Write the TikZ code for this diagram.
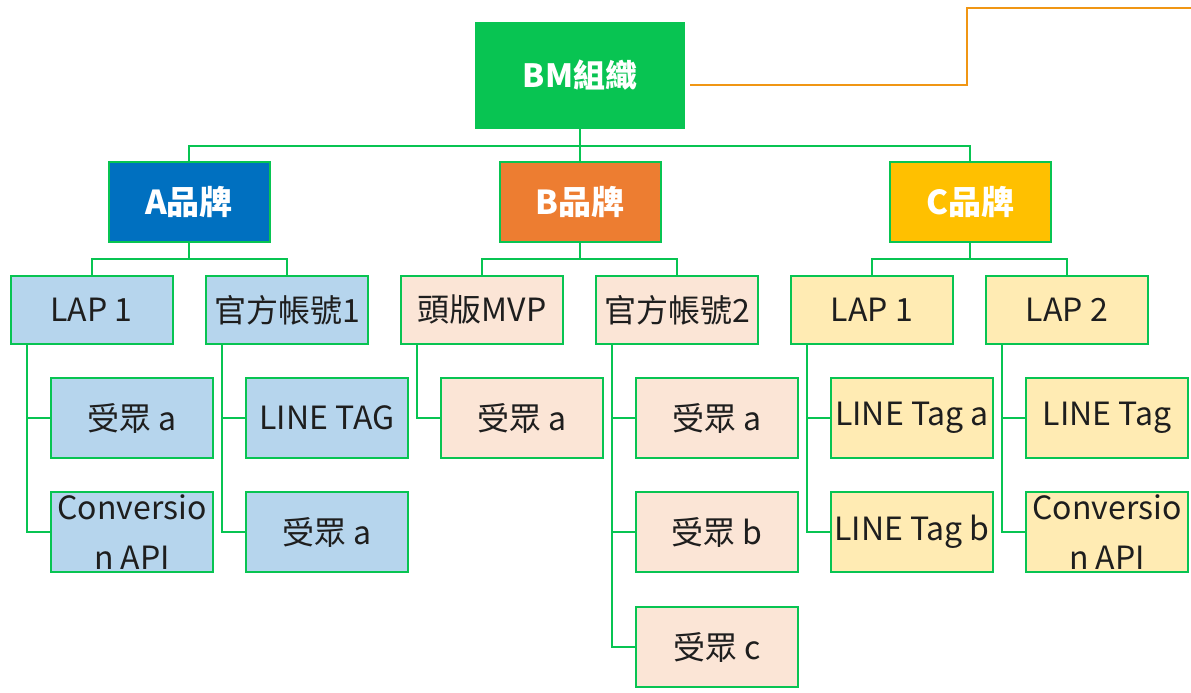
\documentclass[tikz,border=0pt]{standalone}
\usepackage{fontspec}
\setmainfont{Noto Sans CJK TC}
\usetikzlibrary{calc}

\definecolor{orggreen}{RGB}{8,196,82}
\definecolor{brandA}{RGB}{0,112,192}
\definecolor{brandB}{RGB}{237,125,49}
\definecolor{brandC}{RGB}{255,192,0}
\definecolor{paleA}{RGB}{182,213,237}
\definecolor{paleB}{RGB}{251,229,214}
\definecolor{paleC}{RGB}{255,235,179}
\definecolor{feedorange}{RGB}{240,150,20}
\definecolor{inkgray}{RGB}{30,30,30}

\begin{document}
\begin{tikzpicture}[x=1pt,y=-1pt,
	link/.style={draw=orggreen, line width=2pt},
	feedlink/.style={draw=feedorange, line width=2pt},
	orgbox/.style={draw=orggreen, line width=2pt, inner sep=0pt, align=center},
	topbox/.style={orgbox, fill=orggreen, minimum width=208pt, minimum height=105pt,
		text=white, font=\fontsize{32}{38}\selectfont\bfseries},
	brandbox/.style={orgbox, minimum width=161pt, minimum height=80pt,
		text=white, font=\fontsize{33}{38}\selectfont\bfseries},
	accbox/.style={orgbox, minimum width=162pt, minimum height=68pt,
		text=inkgray, font=\fontsize{32}{50}\selectfont},
	leafbox/.style={orgbox, minimum width=162pt, minimum height=80pt,
		text=inkgray, font=\fontsize{32}{50}\selectfont},
]

% frame %{{{2

	\useasboundingbox (0,0) rectangle (1191,693);

% top %{{{2

	\node[topbox] (BM) at (580,75.5) {BM組織};

% brands %{{{2

	\node[brandbox, fill=brandA] (A) at (189,202) {A品牌};
	\node[brandbox, fill=brandB] (B) at (580,202) {B品牌};
	\node[brandbox, fill=brandC] (C) at (970,202) {C品牌};

% accounts %{{{2

	\node[accbox, fill=paleA] (A1) at (91.5,310) {LAP 1};
	\node[accbox, fill=paleA] (A2) at (287,310) {官方帳號1};
	\node[accbox, fill=paleB] (B1) at (482,310) {頭版MVP};
	\node[accbox, fill=paleB] (B2) at (677,310) {官方帳號2};
	\node[accbox, fill=paleC] (C1) at (872,310) {LAP 1};
	\node[accbox, fill=paleC] (C2) at (1067,310) {LAP 2};

% leaves %{{{2

	\node[leafbox, fill=paleA] (A1a) at (132,418) {受眾 a};
	\node[leafbox, fill=paleA] (A1b) at (132,532) {Conversio\\n API};
	\node[leafbox, fill=paleA] (A2a) at (327,418) {LINE TAG};
	\node[leafbox, fill=paleA] (A2b) at (327,532) {受眾 a};

	\node[leafbox, fill=paleB] (B1a) at (522,418) {受眾 a};
	\node[leafbox, fill=paleB] (B2a) at (717,418) {受眾 a};
	\node[leafbox, fill=paleB] (B2b) at (717,532) {受眾 b};
	\node[leafbox, fill=paleB] (B2c) at (717,647) {受眾 c};

	\node[leafbox, fill=paleC] (C1a) at (912,418) {LINE Tag a};
	\node[leafbox, fill=paleC] (C1b) at (912,532) {LINE Tag b};
	\node[leafbox, fill=paleC] (C2a) at (1107,418) {LINE Tag};
	\node[leafbox, fill=paleC] (C2b) at (1107,532) {Conversio\\n API};

% tree links %{{{2

	\foreach \p/\c in {BM/A,BM/B,BM/C} {
		\draw[link] (\p.south) -- ++(0,17) -| (\c.north);
	}

	\foreach \p/\c in {A/A1,A/A2,B/B1,B/B2,C/C1,C/C2} {
		\draw[link] (\p.south) -- ++(0,16) -| (\c.north);
	}

% leaf links %{{{2

	\foreach \p/\c in {A1/A1a,A1/A1b,A2/A2a,A2/A2b,B1/B1a,B2/B2a,B2/B2b,B2/B2c,
		C1/C1a,C1/C1b,C2/C2a,C2/C2b} {
		\draw[link] ($(\p.south west)+(17,0)$) |- (\c.west);
	}

% feed line %{{{2

	\coordinate (feed) at ($(BM.east)+(5,9)$);
	\coordinate (bend) at (967,8);
	\coordinate (edge) at (1191,8);

	\draw[feedlink] (feed) -| (bend) -- (edge);

% closing %{{{2

\end{tikzpicture}
\end{document}
